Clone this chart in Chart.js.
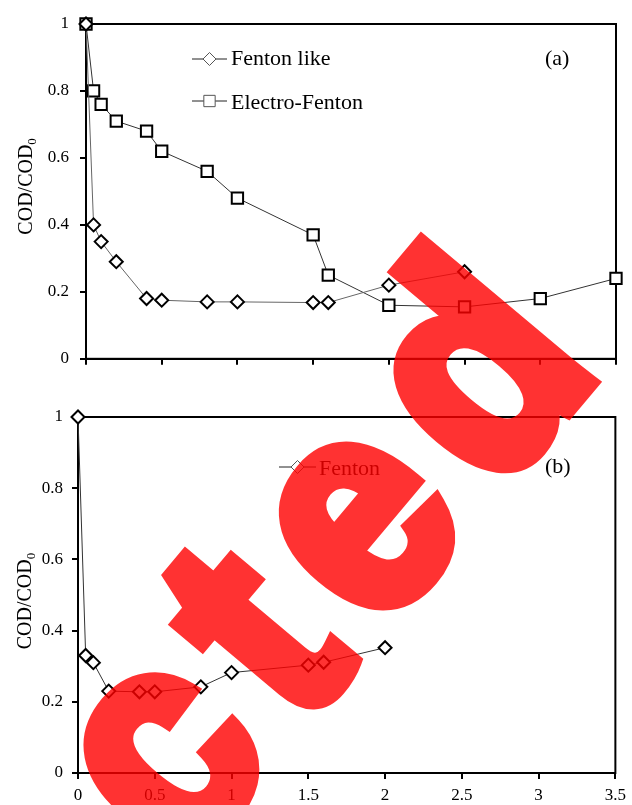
<!DOCTYPE html>
<html>
<head>
<meta charset="utf-8">
<script src="https://cdn.jsdelivr.net/npm/chart.js@4.4.1/dist/chart.umd.min.js"></script>
<style>
  html, body { margin: 0; padding: 0; background: #fff; }
  body { width: 632px; height: 805px; position: relative; overflow: hidden; }
  #wrapA { position: absolute; left: 0; top: 0; width: 632px; height: 380px; }
  #wrapB { position: absolute; left: 0; top: 380px; width: 632px; height: 425px; }
  #stamp { position: absolute; left: 0; top: 0; pointer-events: none; opacity: 0.8; }
</style>
</head>
<body>
<div id="wrapA"><canvas id="chartA" width="632" height="380"></canvas></div>
<div id="wrapB"><canvas id="chartB" width="632" height="425"></canvas></div>
<canvas id="stamp" width="632" height="805"></canvas>
<script>
// panel (a)
const timeFentonLike = [0, 0.05, 0.1, 0.2, 0.4, 0.5, 0.8, 1.0, 1.5, 1.6, 2.0, 2.5];
const codFentonLike  = [1, 0.40, 0.35, 0.29, 0.18, 0.175, 0.17, 0.17, 0.168, 0.168, 0.22, 0.26];
const timeElectro    = [0, 0.05, 0.1, 0.2, 0.4, 0.5, 0.8, 1.0, 1.5, 1.6, 2.0, 2.5, 3.0, 3.5];
const codElectro     = [1, 0.80, 0.76, 0.71, 0.68, 0.62, 0.56, 0.48, 0.37, 0.25, 0.16, 0.155, 0.18, 0.24];
// panel (b)
const timeFenton = [0, 0.05, 0.1, 0.2, 0.4, 0.5, 0.8, 1.0, 1.5, 1.6, 2.0];
const codFenton  = [1, 0.33, 0.31, 0.23, 0.228, 0.228, 0.242, 0.282, 0.303, 0.311, 0.352];

const serif = '"Liberation Serif", "Times New Roman", serif';
Chart.defaults.font.family = serif;
Chart.defaults.color = '#000';

const toPoints = (xs, ys) => xs.map((x, i) => ({ x, y: ys[i] }));
const plainNum = v => String(parseFloat(v.toFixed(2)));

// frame, y title with subscript, inline legend and panel letter
const notesPlugin = {
    id: 'notes',
    beforeDatasetsDraw(chart, args, opts) {
        const { ctx, chartArea: a } = chart;
        ctx.save();
        ctx.strokeStyle = '#000';
        ctx.lineWidth = 2;
        ctx.strokeRect(a.left, a.top, a.right - a.left, a.bottom - a.top);
        ctx.restore();
    },
    afterDraw(chart, args, opts) {
        const { ctx, chartArea: a } = chart;
        ctx.save();
        ctx.fillStyle = '#000';

        // y axis title: COD/COD0
        ctx.save();
        ctx.translate(opts.titleX, (a.top + a.bottom) / 2 + opts.titleShift);
        ctx.rotate(-Math.PI / 2);
        ctx.font = '20px ' + serif;
        const w1 = ctx.measureText('COD/COD').width;
        ctx.font = '13px ' + serif;
        const w2 = ctx.measureText('0').width;
        const start = -(w1 + w2) / 2;
        ctx.font = '20px ' + serif;
        ctx.textBaseline = 'alphabetic';
        ctx.fillText('COD/COD', start, 0);
        ctx.font = '13px ' + serif;
        ctx.fillText('0', start + w1, 4);
        ctx.restore();

        // legend entries
        ctx.font = '22px ' + serif;
        ctx.textBaseline = 'alphabetic';
        opts.legend.forEach((item, i) => {
            const ds = chart.data.datasets[i];
            ctx.strokeStyle = '#222';
            ctx.lineWidth = 1;
            ctx.beginPath();
            ctx.moveTo(item.x1, item.y);
            ctx.lineTo(item.x2, item.y);
            ctx.stroke();
            ctx.fillStyle = '#fff';
            ctx.strokeStyle = '#555';
            Chart.helpers.drawPoint(ctx, {
                pointStyle: ds.pointStyle,
                radius: ds.pointRadius,
                rotation: 0,
                borderWidth: 1
            }, (item.x1 + item.x2) / 2, item.y);
            ctx.fillStyle = '#000';
            ctx.fillText(ds.label, item.tx, item.ty);
        });

        ctx.fillText(opts.panel.text, opts.panel.x, opts.panel.y);
        ctx.restore();
    }
};

function seriesStyle(label, pts, style, radius, lineColor) {
    return {
        label,
        data: pts,
        pointStyle: style,
        pointRadius: radius,
        pointBorderWidth: 2,
        pointBorderColor: '#000',
        pointBackgroundColor: '#fff',
        borderColor: lineColor,
        borderWidth: 1,
        tension: 0,
        fill: false,
        clip: false
    };
}

function axes(opt) {
    return {
        x: {
            type: 'linear',
            min: 0, max: 3.5,
            afterFit: s => { s.height = opt.xHeight; },
            ticks: {
                stepSize: 0.5,
                display: opt.xLabels,
                autoSkip: false,
                maxRotation: 0,
                padding: 6,
                font: { size: 17 },
                color: '#000',
                callback: plainNum
            },
            grid: { drawOnChartArea: false, drawTicks: true, tickLength: 6, color: '#000', lineWidth: 2 },
            border: { display: true, color: '#000', width: 2 }
        },
        y: {
            min: 0, max: 1,
            afterFit: s => { s.width = opt.yWidth; },
            ticks: {
                stepSize: 0.2,
                padding: opt.yPad,
                font: { size: 17 },
                color: '#000',
                callback: plainNum
            },
            grid: { drawOnChartArea: false, drawTicks: true, tickLength: 6, color: '#000', lineWidth: 2 },
            border: { display: true, color: '#000', width: 2 }
        }
    };
}

new Chart(document.getElementById('chartA'), {
    type: 'line',
    data: {
        datasets: [
            seriesStyle('Fenton like', toPoints(timeFentonLike, codFentonLike), 'rectRot', 6.5, '#666'),
            seriesStyle('Electro-Fenton', toPoints(timeElectro, codElectro), 'rect', 8, '#333')
        ]
    },
    options: {
        responsive: false,
        animation: false,
        layout: { padding: { top: 24, right: 16, left: 0, bottom: 0 } },
        scales: axes({ xHeight: 16, yWidth: 86, yPad: 11, xLabels: false }),
        plugins: {
            legend: { display: false },
            tooltip: { enabled: false },
            notes: {
                titleX: 32, titleShift: -5,
                legend: [
                    { x1: 192, x2: 227, y: 59, tx: 231, ty: 65 },
                    { x1: 192, x2: 227, y: 101, tx: 231, ty: 109 }
                ],
                panel: { text: '(a)', x: 545, y: 65 }
            }
        }
    },
    plugins: [notesPlugin]
});

new Chart(document.getElementById('chartB'), {
    type: 'line',
    data: {
        datasets: [
            seriesStyle('Fenton', toPoints(timeFenton, codFenton), 'rectRot', 6.5, '#333')
        ]
    },
    options: {
        responsive: false,
        animation: false,
        layout: { padding: { top: 37, right: 13, left: 0, bottom: 0 } },
        scales: axes({ xHeight: 32, yWidth: 78, yPad: 9, xLabels: true }),
        plugins: {
            legend: { display: false },
            tooltip: { enabled: false },
            notes: {
                titleX: 31, titleShift: 6,
                legend: [
                    { x1: 279, x2: 316, y: 87, tx: 319, ty: 95 }
                ],
                panel: { text: '(b)', x: 545, y: 93 }
            }
        }
    },
    plugins: [notesPlugin]
});

// "Retracted" stamp across the page
const sctx = document.getElementById('stamp').getContext('2d');
sctx.translate(622, 344);
sctx.rotate(-50 * Math.PI / 180);
sctx.scale(0.9, 1);
sctx.font = 'bold 300px "Liberation Sans", Arial, sans-serif';
sctx.letterSpacing = '36px';
sctx.textAlign = 'right';
sctx.textBaseline = 'alphabetic';
sctx.fillStyle = '#ff0000';
sctx.strokeStyle = '#ff0000';
sctx.lineWidth = 18;
sctx.lineJoin = 'miter';
sctx.fillText('Retracted', 0, 0);
sctx.strokeText('Retracted', 0, 0);
</script>
</body>
</html>
